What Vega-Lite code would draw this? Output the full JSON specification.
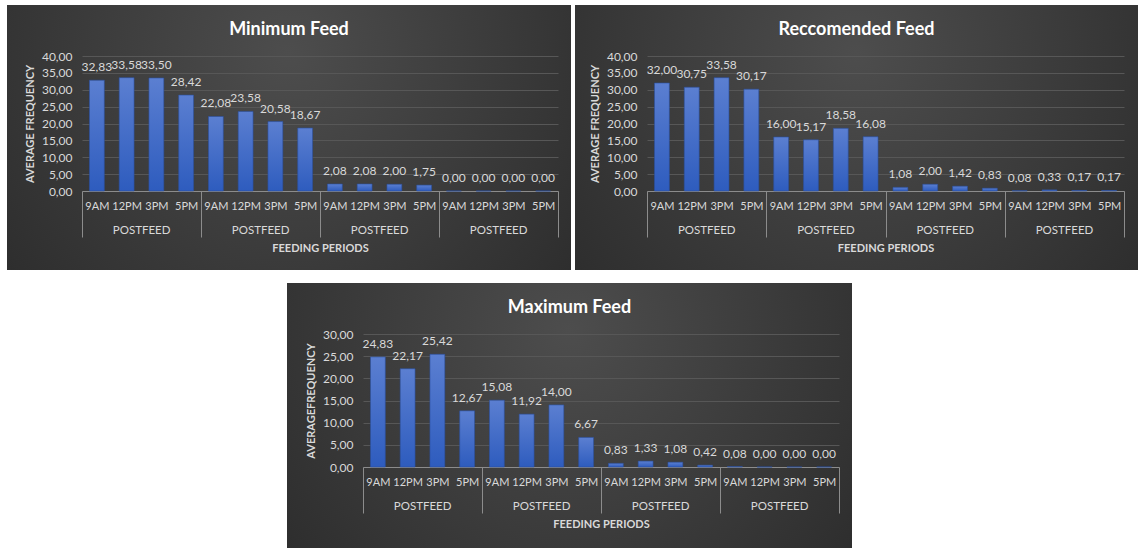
{
  "$schema": "https://vega.github.io/schema/vega-lite/v6.json",
  "background": "white",
  "padding": {"left": 7, "top": 5, "right": 0, "bottom": 0},
  "config": {
    "locale": {"number": {"decimal": ",", "thousands": ".", "grouping": [3], "currency": ["", ""]}},
    "font": "Lato",
    "view": {"stroke": null},
    "title": {"color": "#ffffff", "fontSize": 18, "fontWeight": "bold", "font": "Lato", "offset": -34, "anchor": "middle", "frame": "group"}
  },
  "datasets": {
    "min": [
      {"slot": "1|9AM", "v": 32.83}, {"slot": "1|12PM", "v": 33.58}, {"slot": "1|3PM", "v": 33.50}, {"slot": "1|5PM", "v": 28.42},
      {"slot": "2|9AM", "v": 22.08}, {"slot": "2|12PM", "v": 23.58}, {"slot": "2|3PM", "v": 20.58}, {"slot": "2|5PM", "v": 18.67},
      {"slot": "3|9AM", "v": 2.08}, {"slot": "3|12PM", "v": 2.08}, {"slot": "3|3PM", "v": 2.00}, {"slot": "3|5PM", "v": 1.75},
      {"slot": "4|9AM", "v": 0}, {"slot": "4|12PM", "v": 0}, {"slot": "4|3PM", "v": 0}, {"slot": "4|5PM", "v": 0}
    ],
    "rec": [
      {"slot": "1|9AM", "v": 32.00}, {"slot": "1|12PM", "v": 30.75}, {"slot": "1|3PM", "v": 33.58}, {"slot": "1|5PM", "v": 30.17},
      {"slot": "2|9AM", "v": 16.00}, {"slot": "2|12PM", "v": 15.17}, {"slot": "2|3PM", "v": 18.58}, {"slot": "2|5PM", "v": 16.08},
      {"slot": "3|9AM", "v": 1.08}, {"slot": "3|12PM", "v": 2.00}, {"slot": "3|3PM", "v": 1.42}, {"slot": "3|5PM", "v": 0.83},
      {"slot": "4|9AM", "v": 0.08}, {"slot": "4|12PM", "v": 0.33}, {"slot": "4|3PM", "v": 0.17}, {"slot": "4|5PM", "v": 0.17}
    ],
    "max": [
      {"slot": "1|9AM", "v": 24.83}, {"slot": "1|12PM", "v": 22.17}, {"slot": "1|3PM", "v": 25.42}, {"slot": "1|5PM", "v": 12.67},
      {"slot": "2|9AM", "v": 15.08}, {"slot": "2|12PM", "v": 11.92}, {"slot": "2|3PM", "v": 14.00}, {"slot": "2|5PM", "v": 6.67},
      {"slot": "3|9AM", "v": 0.83}, {"slot": "3|12PM", "v": 1.33}, {"slot": "3|3PM", "v": 1.08}, {"slot": "3|5PM", "v": 0.42},
      {"slot": "4|9AM", "v": 0.08}, {"slot": "4|12PM", "v": 0}, {"slot": "4|3PM", "v": 0}, {"slot": "4|5PM", "v": 0}
    ]
  },
  "vconcat": [
    {
      "hconcat": [
        {
          "title": "Minimum Feed",
          "width": 564, "height": 265,
          "view": {"stroke": null, "fill": {"gradient": "radial", "x1": 0.5, "y1": 0.35, "r1": 0, "x2": 0.5, "y2": 0.35, "r2": 0.75, "stops": [{"offset": 0, "color": "#4d4d4d"}, {"offset": 1, "color": "#282828"}]}},
          "data": {"name": "min"},
          "encoding": {
            "y": {"field": "v", "type": "quantitative", "scale": {"domain": [0, 40], "range": [186, 51], "nice": false},
              "axis": {"orient": "left", "offset": -75, "values": [0, 5, 10, 15, 20, 25, 30, 35, 40], "format": ".2f", "domain": false, "ticks": false, "grid": true, "gridColor": "#575757", "gridWidth": 1, "labelColor": "#d9d9d9", "labelFontSize": 12, "labelPadding": 10, "title": "AVERAGE FREQUENCY", "titleColor": "#d9d9d9", "titleFontSize": 11, "titleFontWeight": "bold", "titlePadding": 6}}
          },
          "layer": [
            {
              "mark": {"type": "bar", "width": {"band": 0.5}, "fill": {"gradient": "linear", "x1": 0, "y1": 0, "x2": 0, "y2": 1, "stops": [{"offset": 0, "color": "#5b7fd1"}, {"offset": 1, "color": "#2e5cbe"}]}, "stroke": "#2a4f9e", "strokeWidth": 0.6},
              "encoding": {
                "x": {"field": "slot", "type": "nominal", "sort": null, "scale": {"range": [75, 551], "paddingInner": 0, "paddingOuter": 0},
                  "axis": {"orient": "bottom", "offset": -79, "title": null, "labelExpr": "split(datum.value, '|')[1]", "labelAngle": 0, "labelOverlap": false, "labelColor": "#d9d9d9", "labelFontSize": 11, "labelPadding": -37, "tickBand": "extent", "tickSize": 46, "tickColor": "#8c8c8c", "tickWidth": 1, "tickOpacity": {"condition": {"test": "datum.extra || indexof(datum.value, '5PM') >= 0", "value": 1}, "value": 0}, "domainColor": "#8c8c8c", "grid": false}}
              }
            },
            {
              "mark": {"type": "text", "baseline": "middle", "dy": -13, "fontSize": 12, "color": "#d9d9d9", "font": "Lato"},
              "encoding": {
                "x": {"field": "slot", "type": "nominal", "sort": null, "scale": {"range": [75, 551], "paddingInner": 0, "paddingOuter": 0},
                  "axis": {"orient": "bottom", "offset": -79, "values": ["1|12PM", "2|12PM", "3|12PM", "4|12PM"], "labelExpr": "'POSTFEED'", "labelOffset": 15, "labelAngle": 0, "labelOverlap": false, "labelColor": "#d9d9d9", "labelFontSize": 11.5, "labelPadding": 33, "ticks": false, "domain": false, "grid": false, "title": "FEEDING PERIODS", "titleColor": "#d9d9d9", "titleFontSize": 11, "titleFontWeight": "bold", "titlePadding": 7}},
                "text": {"field": "v", "type": "quantitative", "format": ".2f"}
              }
            }
          ],
          "resolve": {"scale": {"x": "shared"}, "axis": {"x": "independent"}}
        },
        {
          "title": "Reccomended Feed",
          "width": 563, "height": 265,
          "view": {"stroke": null, "fill": {"gradient": "radial", "x1": 0.5, "y1": 0.35, "r1": 0, "x2": 0.5, "y2": 0.35, "r2": 0.75, "stops": [{"offset": 0, "color": "#4d4d4d"}, {"offset": 1, "color": "#282828"}]}},
          "data": {"name": "rec"},
          "encoding": {
            "y": {"field": "v", "type": "quantitative", "scale": {"domain": [0, 40], "range": [186, 51], "nice": false},
              "axis": {"orient": "left", "offset": -72, "values": [0, 5, 10, 15, 20, 25, 30, 35, 40], "format": ".2f", "domain": false, "ticks": false, "grid": true, "gridColor": "#575757", "gridWidth": 1, "labelColor": "#d9d9d9", "labelFontSize": 12, "labelPadding": 10, "title": "AVERAGE FREQUENCY", "titleColor": "#d9d9d9", "titleFontSize": 11, "titleFontWeight": "bold", "titlePadding": 6}}
          },
          "layer": [
            {
              "mark": {"type": "bar", "width": {"band": 0.5}, "fill": {"gradient": "linear", "x1": 0, "y1": 0, "x2": 0, "y2": 1, "stops": [{"offset": 0, "color": "#5b7fd1"}, {"offset": 1, "color": "#2e5cbe"}]}, "stroke": "#2a4f9e", "strokeWidth": 0.6},
              "encoding": {
                "x": {"field": "slot", "type": "nominal", "sort": null, "scale": {"range": [72, 549], "paddingInner": 0, "paddingOuter": 0},
                  "axis": {"orient": "bottom", "offset": -79, "title": null, "labelExpr": "split(datum.value, '|')[1]", "labelAngle": 0, "labelOverlap": false, "labelColor": "#d9d9d9", "labelFontSize": 11, "labelPadding": -37, "tickBand": "extent", "tickSize": 46, "tickColor": "#8c8c8c", "tickWidth": 1, "tickOpacity": {"condition": {"test": "datum.extra || indexof(datum.value, '5PM') >= 0", "value": 1}, "value": 0}, "domainColor": "#8c8c8c", "grid": false}}
              }
            },
            {
              "mark": {"type": "text", "baseline": "middle", "dy": -13, "fontSize": 12, "color": "#d9d9d9", "font": "Lato"},
              "encoding": {
                "x": {"field": "slot", "type": "nominal", "sort": null, "scale": {"range": [72, 549], "paddingInner": 0, "paddingOuter": 0},
                  "axis": {"orient": "bottom", "offset": -79, "values": ["1|12PM", "2|12PM", "3|12PM", "4|12PM"], "labelExpr": "'POSTFEED'", "labelOffset": 15, "labelAngle": 0, "labelOverlap": false, "labelColor": "#d9d9d9", "labelFontSize": 11.5, "labelPadding": 33, "ticks": false, "domain": false, "grid": false, "title": "FEEDING PERIODS", "titleColor": "#d9d9d9", "titleFontSize": 11, "titleFontWeight": "bold", "titlePadding": 7}},
                "text": {"field": "v", "type": "quantitative", "format": ".2f"}
              }
            }
          ],
          "resolve": {"scale": {"x": "shared"}, "axis": {"x": "independent"}}
        }
      ],
      "spacing": 4
    },
    {
      "hconcat": [
        {
          "width": 280, "height": 265,
          "view": {"stroke": null, "fill": null},
          "data": {"values": []},
          "mark": "point",
          "encoding": {}
        },
        {
          "title": "Maximum Feed",
          "width": 565, "height": 265,
          "view": {"stroke": null, "fill": {"gradient": "radial", "x1": 0.5, "y1": 0.35, "r1": 0, "x2": 0.5, "y2": 0.35, "r2": 0.75, "stops": [{"offset": 0, "color": "#4d4d4d"}, {"offset": 1, "color": "#282828"}]}},
          "data": {"name": "max"},
          "encoding": {
            "y": {"field": "v", "type": "quantitative", "scale": {"domain": [0, 30], "range": [184, 51], "nice": false},
              "axis": {"orient": "left", "offset": -76, "values": [0, 5, 10, 15, 20, 25, 30], "format": ".2f", "domain": false, "ticks": false, "grid": true, "gridColor": "#575757", "gridWidth": 1, "labelColor": "#d9d9d9", "labelFontSize": 12, "labelPadding": 10, "title": "AVERAGEFREQUENCY", "titleColor": "#d9d9d9", "titleFontSize": 11, "titleFontWeight": "bold", "titlePadding": 6}}
          },
          "layer": [
            {
              "mark": {"type": "bar", "width": {"band": 0.5}, "fill": {"gradient": "linear", "x1": 0, "y1": 0, "x2": 0, "y2": 1, "stops": [{"offset": 0, "color": "#5b7fd1"}, {"offset": 1, "color": "#2e5cbe"}]}, "stroke": "#2a4f9e", "strokeWidth": 0.6},
              "encoding": {
                "x": {"field": "slot", "type": "nominal", "sort": null, "scale": {"range": [76, 552], "paddingInner": 0, "paddingOuter": 0},
                  "axis": {"orient": "bottom", "offset": -81, "title": null, "labelExpr": "split(datum.value, '|')[1]", "labelAngle": 0, "labelOverlap": false, "labelColor": "#d9d9d9", "labelFontSize": 11, "labelPadding": -37, "tickBand": "extent", "tickSize": 46, "tickColor": "#8c8c8c", "tickWidth": 1, "tickOpacity": {"condition": {"test": "datum.extra || indexof(datum.value, '5PM') >= 0", "value": 1}, "value": 0}, "domainColor": "#8c8c8c", "grid": false}}
              }
            },
            {
              "mark": {"type": "text", "baseline": "middle", "dy": -13, "fontSize": 12, "color": "#d9d9d9", "font": "Lato"},
              "encoding": {
                "x": {"field": "slot", "type": "nominal", "sort": null, "scale": {"range": [76, 552], "paddingInner": 0, "paddingOuter": 0},
                  "axis": {"orient": "bottom", "offset": -81, "values": ["1|12PM", "2|12PM", "3|12PM", "4|12PM"], "labelExpr": "'POSTFEED'", "labelOffset": 15, "labelAngle": 0, "labelOverlap": false, "labelColor": "#d9d9d9", "labelFontSize": 11.5, "labelPadding": 33, "ticks": false, "domain": false, "grid": false, "title": "FEEDING PERIODS", "titleColor": "#d9d9d9", "titleFontSize": 11, "titleFontWeight": "bold", "titlePadding": 7}},
                "text": {"field": "v", "type": "quantitative", "format": ".2f"}
              }
            }
          ],
          "resolve": {"scale": {"x": "shared"}, "axis": {"x": "independent"}}
        }
      ],
      "spacing": 0
    }
  ],
  "spacing": 13
}
